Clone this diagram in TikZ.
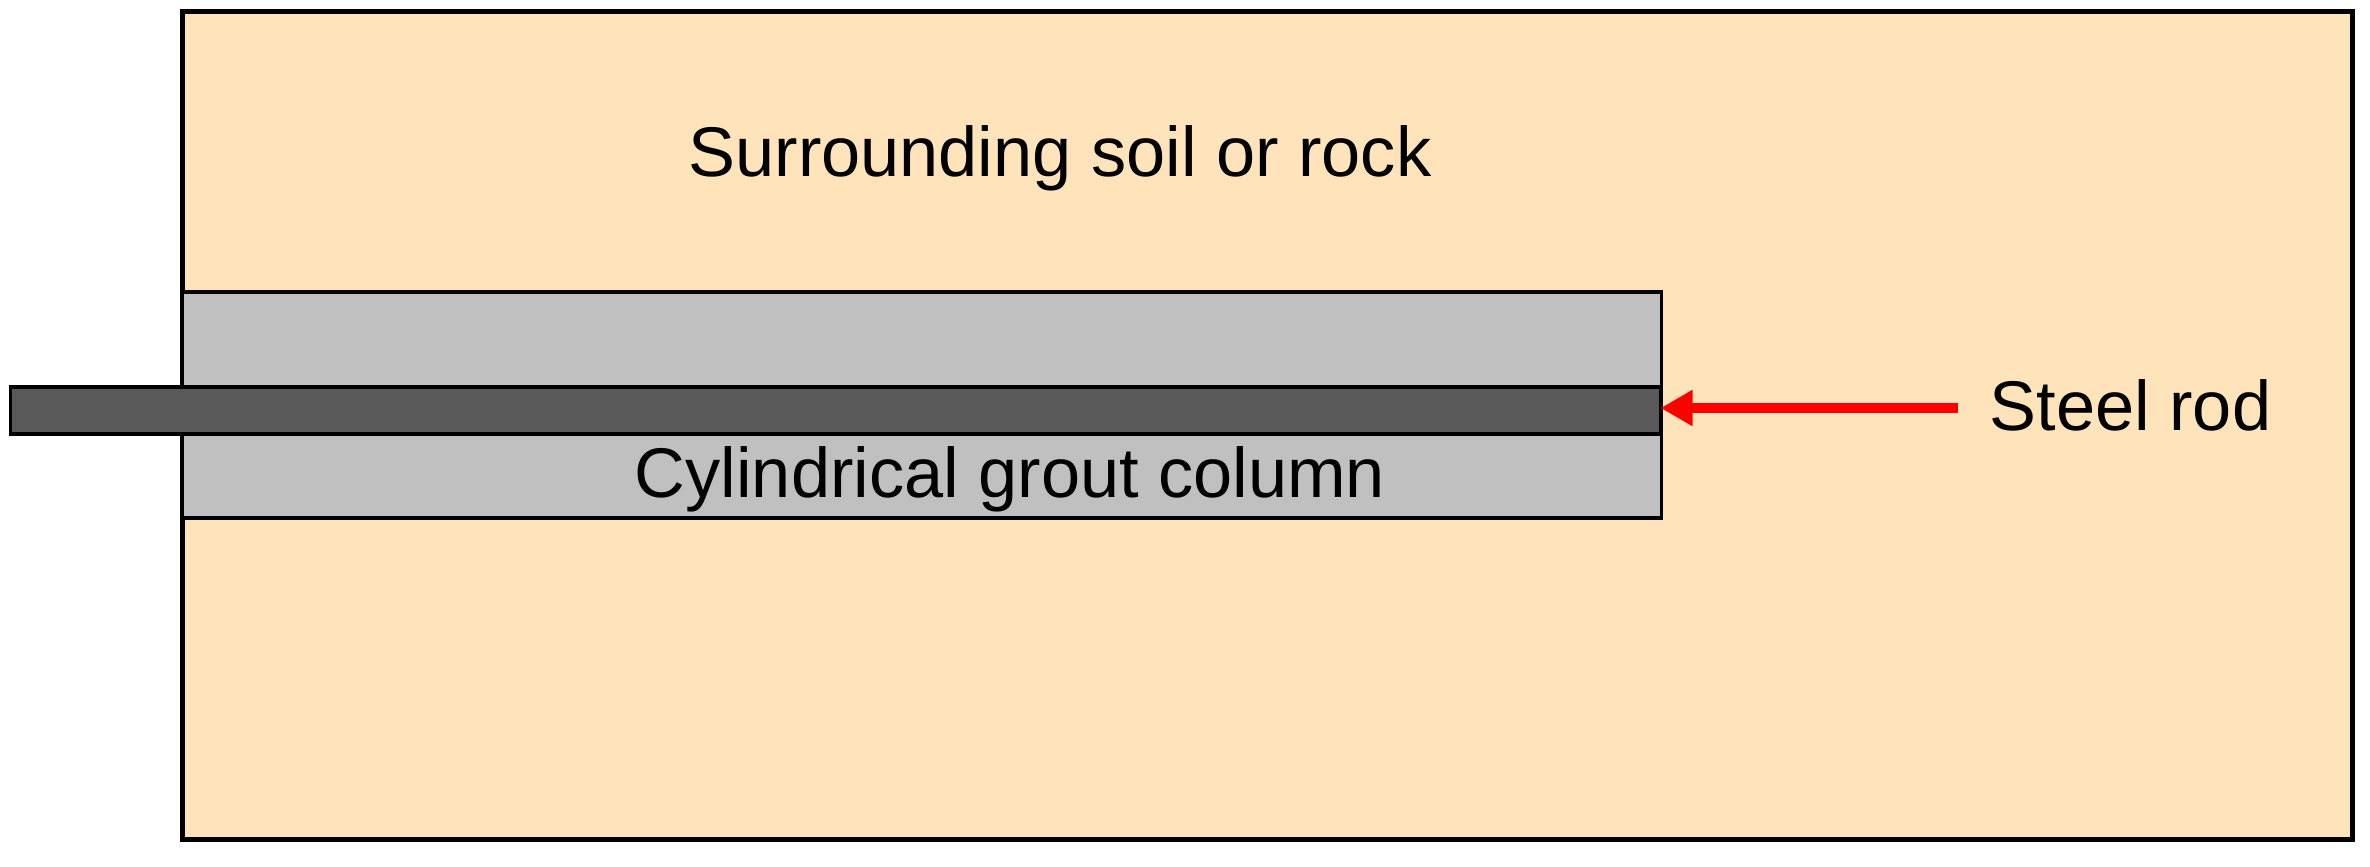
\documentclass[tikz,border=0pt]{standalone}
\usepackage{fontspec}
\setmainfont{Liberation Sans}
\usepackage{tikz}
\usetikzlibrary{shapes,arrows,arrows.meta,positioning}
\definecolor{soilcolor}{RGB}{255,227,187}
\definecolor{groutcolor}{RGB}{192,192,192}
\definecolor{rodcolor}{RGB}{89,89,89}
\tikzstyle{soil} = [draw=black, fill=soilcolor, line width=1.4pt, rectangle, inner sep=0pt, outer sep=0pt]
\tikzstyle{grout} = [draw=black, fill=groutcolor, line width=0.9pt, rectangle, inner sep=0pt, outer sep=0pt]
\tikzstyle{rod} = [draw=black, fill=rodcolor, line width=0.9pt, rectangle, inner sep=0pt, outer sep=0pt]
\tikzstyle{label} = [font=\fontsize{20}{24}\selectfont, text=black]
\tikzstyle{pointer} = [draw=red, line width=3.1pt, -{Triangle[length=0.32cm,width=0.34cm]}]

\begin{document}
\begin{tikzpicture}[x=0.01cm,y=-0.01cm]
	\useasboundingbox (0,0) rectangle (2370,866);
	\node [soil, minimum width=21.69cm, minimum height=8.27cm] (ground) at (1267.5,425.5) {};
	\node [grout, minimum width=14.78cm, minimum height=2.26cm] (column) at (922,405) {};
	\node [rod, minimum width=16.49cm, minimum height=0.47cm] (rod) at (835.5,410.5) {};
	\node [label, anchor=base] (groundtext) at (1060,176) {Surrounding soil or rock};
	\node [label, anchor=base] (columntext) at (1010,497) {Cylindrical grout column};
	\node [label, anchor=base west, inner sep=0pt] (rodtext) at (1989,430) {Steel rod};
	\coordinate (tail) at (1958,408);
	\draw [pointer] (tail) -- (tail -| rod.east);
\end{tikzpicture}
\end{document}
